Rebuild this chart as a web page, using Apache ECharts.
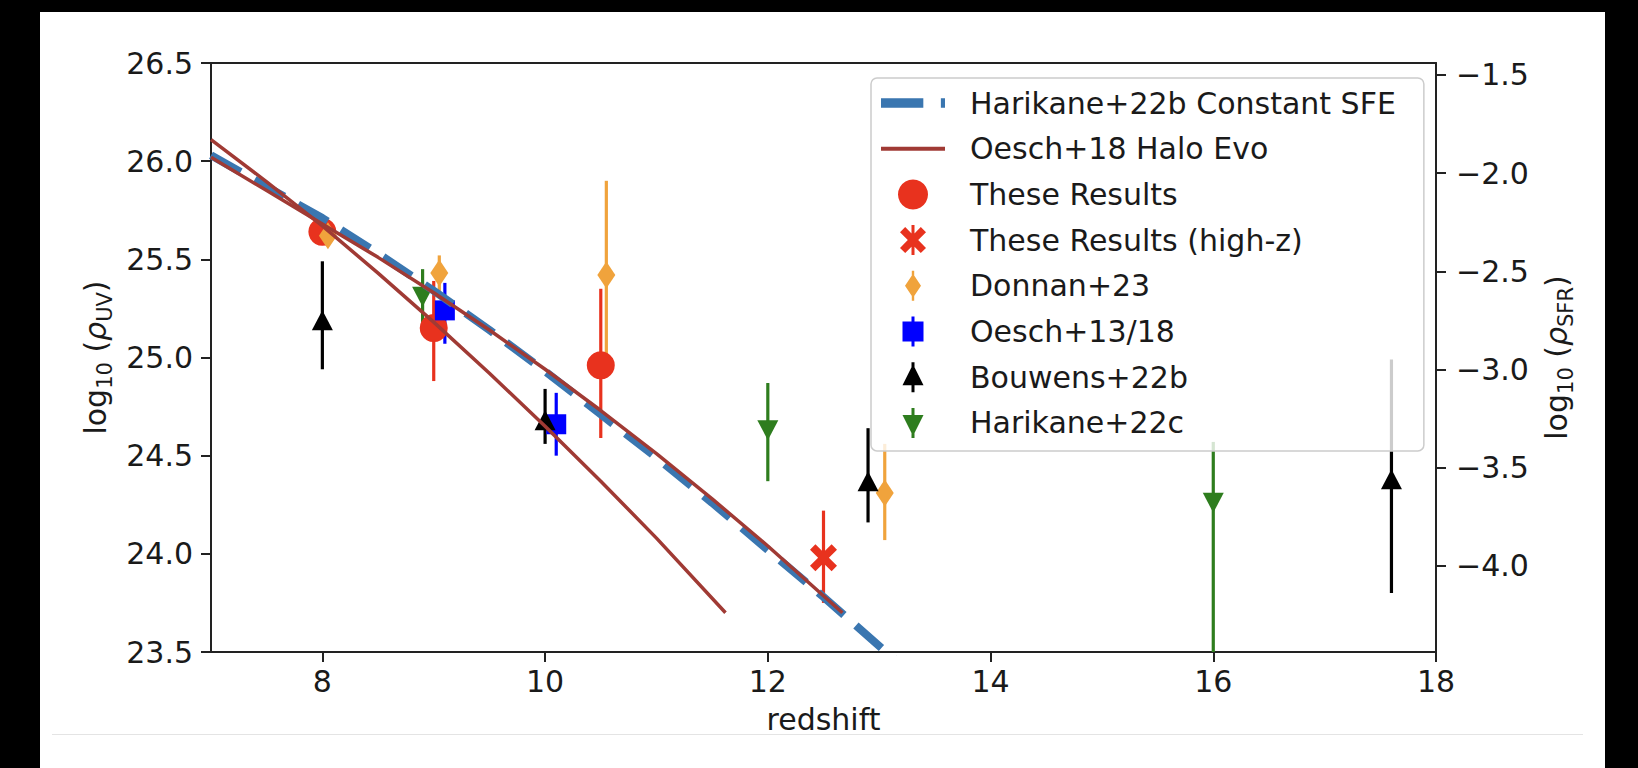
<!DOCTYPE html>
<html>
<head>
<meta charset="utf-8">
<script src="https://cdn.jsdelivr.net/npm/echarts@6.0.0/dist/echarts.min.js"></script>
<style>
  html, body { margin: 0; padding: 0; background: #000; width: 1638px; height: 768px; overflow: hidden; }
  #paper { position: absolute; left: 40px; top: 12px; width: 1565px; height: 756px; background: #fff; }
  #sep { position: absolute; left: 52px; top: 734px; width: 1531px; height: 1px; background: #e4e4e4; }
  #chart { position: absolute; left: 0; top: 0; width: 1638px; height: 768px; }
</style>
</head>
<body>
<div id="paper"></div>
<div id="sep"></div>
<div id="chart"></div>
<script>
// ---------- axis ticks ----------
const xTicks = [8, 10, 12, 14, 16, 18];
const leftTicks = [23.5, 24.0, 24.5, 25.0, 25.5, 26.0, 26.5];
const rightTicks = [-4.0, -3.5, -3.0, -2.5, -2.0, -1.5];
const uvToSfrOffset = 27.939; // log10(rho_SFR) = log10(rho_UV) - 27.939

// ---------- model curves ----------
const harikane22bZ = [7.0, 7.5, 8.0, 8.5, 9.0, 9.5, 10.0, 10.5, 11.0, 11.5, 12.0, 12.5, 13.0, 13.5];
const harikane22bV = [26.03, 25.87, 25.71, 25.53, 25.34, 25.14, 24.93, 24.71, 24.49, 24.26, 24.02, 23.78, 23.53, 23.28];

const oeschHaloAZ = [7.0, 7.5, 8.0, 8.5, 9.0, 9.5, 10.0, 10.5, 11.0, 11.62];
const oeschHaloAV = [26.11, 25.895, 25.67, 25.43, 25.18, 24.92, 24.65, 24.37, 24.08, 23.70];

const oeschHaloBZ = [7.0, 7.5, 8.0, 8.5, 9.0, 9.5, 10.0, 10.5, 11.0, 11.5, 12.0, 12.67];
const oeschHaloBV = [26.02, 25.85, 25.68, 25.51, 25.33, 25.14, 24.94, 24.73, 24.51, 24.28, 24.04, 23.70];

// ---------- measurements ----------
const theseZ  = [8.0, 9.0, 10.5];
const theseV  = [25.64, 25.15, 24.96];
const theseLo = [25.60, 24.88, 24.59];
const theseHi = [25.68, 25.39, 25.35];

const highZ   = [12.5];
const highV   = [23.98];
const highLo  = [23.75];
const highHi  = [24.22];

const donnanZ  = [8.05, 9.05, 10.55, 13.05];
const donnanV  = [25.62, 25.43, 25.42, 24.31];
const donnanLo = [25.58, 25.33, 25.00, 24.07];
const donnanHi = [25.66, 25.52, 25.90, 24.56];

const oeschZ  = [9.1, 10.1];
const oeschV  = [25.24, 24.66];
const oeschLo = [25.07, 24.50];
const oeschHi = [25.38, 24.82];

const bouwensZ  = [8.0, 10.0, 12.9, 17.6];
const bouwensV  = [25.19, 24.68, 24.37, 24.38];
const bouwensLo = [24.94, 24.56, 24.16, 23.80];
const bouwensHi = [25.49, 24.84, 24.64, 24.99];

const harikane22cZ  = [8.9, 12.0, 16.0];
const harikane22cV  = [25.31, 24.63, 24.26];
const harikane22cLo = [25.13, 24.37, 23.30];
const harikane22cHi = [25.45, 24.87, 24.57];

// ---------- styling ----------
const FONT = 'DejaVu Sans';
const TXT = '#1a1a1a';
const AXC = '#222222';
const C = {
  red: '#e8321e', orange: '#f0a33c', blue: '#0000ff', black: '#000000',
  green: '#2e7d1e', steel: '#3a76b0', brown: '#a03a34'
};
const XPATH = 'path://M0,5.2L5.2,0L13,7.8L20.8,0L26,5.2L18.2,13L26,20.8L20.8,26L13,18.2L5.2,26L0,20.8L7.8,13Z';

function pts(z, v) { return z.map((x, i) => [x, v[i]]); }
function bars(z, lo, hi) { return z.map((x, i) => [x, lo[i], hi[i]]); }

function errSeries(name, z, lo, hi, color) {
  return {
    type: 'custom', name: name + ' (err)', data: bars(z, lo, hi), clip: true, z: 2, silent: true,
    encode: { x: 0, y: [1, 2] },
    renderItem: function (params, api) {
      const x = api.value(0);
      const a = api.coord([x, api.value(1)]);
      const b = api.coord([x, api.value(2)]);
      return { type: 'line', shape: { x1: a[0], y1: a[1], x2: b[0], y2: b[1] },
               style: { stroke: color, lineWidth: 3.2 } };
    }
  };
}
function markSeries(name, z, v, symbol, size, color, rotate) {
  return {
    type: 'scatter', name: name, data: pts(z, v), symbol: symbol, symbolSize: size,
    symbolRotate: rotate || 0, z: 2, silent: true,
    itemStyle: { color: color, opacity: 1 }
  };
}

const series = [
  errSeries('These Results', theseZ, theseLo, theseHi, C.red),
  markSeries('These Results', theseZ, theseV, 'circle', 28, C.red),
  errSeries('These Results (high-z)', highZ, highLo, highHi, C.red),
  markSeries('These Results (high-z)', highZ, highV, XPATH, 27, C.red),
  errSeries('Donnan+23', donnanZ, donnanLo, donnanHi, C.orange),
  markSeries('Donnan+23', donnanZ, donnanV, 'diamond', [18, 27], C.orange),
  errSeries('Oesch+13/18', oeschZ, oeschLo, oeschHi, C.blue),
  markSeries('Oesch+13/18', oeschZ, oeschV, 'rect', 20, C.blue),
  errSeries('Bouwens+22b', bouwensZ, bouwensLo, bouwensHi, C.black),
  markSeries('Bouwens+22b', bouwensZ, bouwensV, 'triangle', [21, 20], C.black),
  errSeries('Harikane+22c', harikane22cZ, harikane22cLo, harikane22cHi, C.green),
  markSeries('Harikane+22c', harikane22cZ, harikane22cV, 'triangle', [21, 20], C.green, 180),
  {
    type: 'line', name: 'Harikane+22b Constant SFE', data: pts(harikane22bZ, harikane22bV),
    smooth: false, symbol: 'none', z: 3, silent: true, clip: true,
    lineStyle: { color: C.steel, width: 8, type: [34, 16], cap: 'butt' }
  },
  {
    type: 'line', name: 'Oesch+18 Halo Evo', data: pts(oeschHaloAZ, oeschHaloAV),
    smooth: false, symbol: 'none', z: 4, silent: true, clip: true,
    lineStyle: { color: C.brown, width: 3.5 }
  },
  {
    type: 'line', name: 'Oesch+18 Halo Evo', data: pts(oeschHaloBZ, oeschHaloBV),
    smooth: false, symbol: 'none', z: 4, silent: true, clip: true,
    lineStyle: { color: C.brown, width: 3.5 }
  }
];

const legendItems = [
  { name: 'Harikane+22b Constant SFE', icon: 'path://M0,0H41V9H0Z M58,0H62V9H58Z', itemStyle: { color: C.steel } },
  { name: 'Oesch+18 Halo Evo', icon: 'path://M0,0H64V4H0Z', itemStyle: { color: C.brown } },
  { name: 'These Results', icon: 'circle', itemStyle: { color: C.red } },
  { name: 'These Results (high-z)', icon: 'path://M0,7.2L5.2,2L13,9.8L20.8,2L26,7.2L18.2,15L26,22.8L20.8,28L13,20.2L5.2,28L0,22.8L7.8,15Z M11.5,0H14.5V30H11.5Z', itemStyle: { color: C.red } },
  { name: 'Donnan+23', icon: 'path://M8,3L16,15L8,27L0,15Z M6.8,0H9.2V30H6.8Z', itemStyle: { color: C.orange } },
  { name: 'Oesch+13/18', icon: 'path://M0,5H21V25H0Z M9,0H12V30H9Z', itemStyle: { color: C.blue } },
  { name: 'Bouwens+22b', icon: 'path://M10.5,2L21,23L0,23Z M9,0H12V30H9Z', itemStyle: { color: C.black } },
  { name: 'Harikane+22c', icon: 'path://M0,7H21L10.5,28Z M9,0H12V30H9Z', itemStyle: { color: C.green } }
];

const labelStyle = { fontFamily: FONT, fontSize: 30, color: TXT };
const richTitle = {
  a: { fontFamily: FONT, fontSize: 30, color: TXT, lineHeight: 40 },
  i: { fontFamily: FONT, fontSize: 30, color: TXT, lineHeight: 40, fontStyle: 'italic' },
  s: { fontFamily: FONT, fontSize: 21, color: TXT, lineHeight: 21, verticalAlign: 'bottom' }
};

const option = {
  animation: false,
  backgroundColor: 'transparent',
  grid: { left: 211, top: 63, width: 1225, height: 589, containLabel: false },
  xAxis: [
    {
      type: 'value', min: 7, max: 18, position: 'bottom',
      axisLine: { show: true, onZero: false, lineStyle: { color: AXC, width: 2 } },
      axisTick: { show: true, length: 10, customValues: xTicks, lineStyle: { color: AXC, width: 2 } },
      axisLabel: Object.assign({ customValues: xTicks, margin: 14 }, labelStyle),
      splitLine: { show: false },
      name: 'redshift', nameLocation: 'middle', nameGap: 52,
      nameTextStyle: labelStyle
    },
    {
      type: 'value', min: 7, max: 18, position: 'top',
      axisLine: { show: true, onZero: false, lineStyle: { color: AXC, width: 2 } },
      axisTick: { show: false }, axisLabel: { show: false }, splitLine: { show: false }
    }
  ],
  yAxis: [
    {
      type: 'value', min: 23.5, max: 26.5, interval: 0.5, position: 'left',
      axisLine: { show: true, onZero: false, lineStyle: { color: AXC, width: 2 } },
      axisTick: { show: true, length: 10, lineStyle: { color: AXC, width: 2 } },
      axisLabel: Object.assign({ margin: 18, formatter: v => v.toFixed(1) }, labelStyle),
      splitLine: { show: false },
      name: '{a|log}{s|10}{a| (}{i|ρ}{s|UV}{a|)}', nameLocation: 'middle', nameGap: 95, nameRotate: 90,
      nameTextStyle: { rich: richTitle }
    },
    {
      type: 'value', min: 23.5 - uvToSfrOffset, max: 26.5 - uvToSfrOffset, position: 'right',
      axisLine: { show: true, onZero: false, lineStyle: { color: AXC, width: 2 } },
      axisTick: { show: true, length: 10, customValues: rightTicks, lineStyle: { color: AXC, width: 2 } },
      axisLabel: Object.assign({ margin: 20, customValues: rightTicks,
        formatter: v => (v < 0 ? '\u2212' : '') + Math.abs(v).toFixed(1) }, labelStyle),
      splitLine: { show: false },
      name: '{a|log}{s|10}{a| (}{i|ρ}{s|SFR}{a|)}', nameLocation: 'middle', nameGap: 100, nameRotate: 90,
      nameTextStyle: { rich: richTitle }
    }
  ],
  legend: {
    orient: 'vertical', left: 871, top: 78,
    padding: [10, 28, 13, 10], itemWidth: 64, itemHeight: 30, itemGap: 15.7,
    backgroundColor: 'rgba(255,255,255,0.8)', borderColor: '#cccccc', borderWidth: 1.5, borderRadius: 6,
    selectedMode: false, z: 10,
    textStyle: { fontFamily: FONT, fontSize: 30, color: TXT, padding: [0, 0, 0, 20] },
    data: legendItems
  },
  series: series
};

const chart = echarts.init(document.getElementById('chart'), null, { renderer: 'svg', width: 1638, height: 768 });
chart.setOption(option);
</script>
</body>
</html>
